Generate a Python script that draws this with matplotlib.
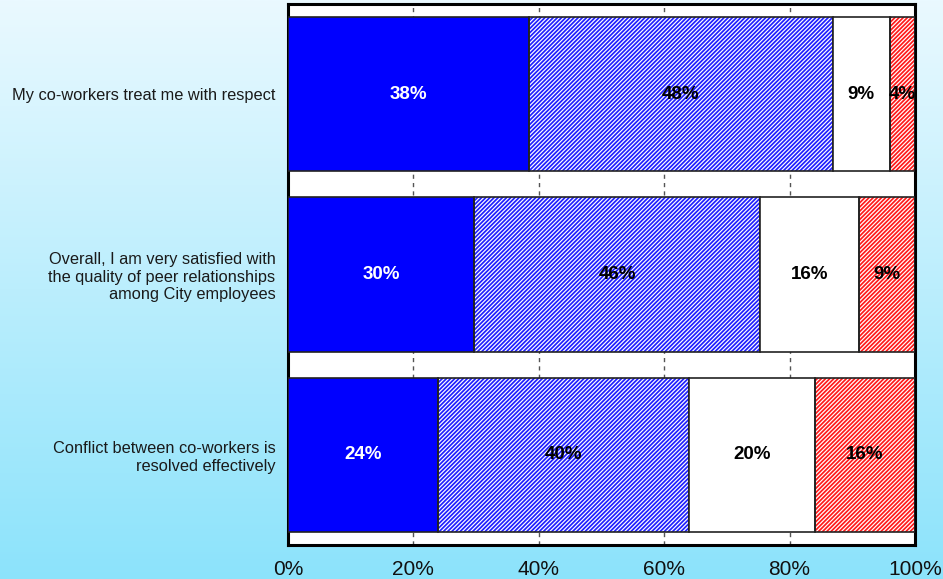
import numpy as np
import matplotlib
matplotlib.use("Agg")
import matplotlib.pyplot as plt

plt.rcParams["font.family"] = ["Liberation Sans", "DejaVu Sans"]
plt.rcParams["hatch.linewidth"] = 1.25

# Survey statements (top to bottom) and response shares in percent
categories = [
    "My co-workers treat me with respect",
    "Overall, I am very satisfied with\nthe quality of peer relationships\namong City employees",
    "Conflict between co-workers is\nresolved effectively",
]
strongly_agree = [38, 30, 24]
agree = [48, 46, 40]
disagree = [9, 16, 20]
strongly_disagree = [4, 9, 16]
tick_values = [0, 20, 40, 60, 80, 100]
tick_labels = ["0%", "20%", "40%", "60%", "80%", "100%"]

series = [strongly_agree, agree, disagree, strongly_disagree]
styles = [
    dict(face="#0000FF", hatch=None, hcolor=None, text="white"),
    dict(face="white", hatch="////////", hcolor="#2020FF", text="black"),
    dict(face="white", hatch=None, hcolor=None, text="black"),
    dict(face="white", hatch="////////", hcolor="#FF1A1A", text="black"),
]

W, H = 943, 579
fig = plt.figure(figsize=(W / 100, H / 100), dpi=100)

# Vertical sky gradient behind everything
bg = fig.add_axes([0, 0, 1, 1], zorder=-10)
top_rgb = np.array([0xEA, 0xF9, 0xFF]) / 255
bot_rgb = np.array([0x8C, 0xE3, 0xFB]) / 255
t = np.linspace(0, 1, 256)[:, None]
grad = top_rgb[None, :] * (1 - t) + bot_rgb[None, :] * t
bg.imshow(grad[:, None, :], aspect="auto", extent=[0, 1, 0, 1], origin="upper")
bg.set_axis_off()

ax = fig.add_axes([288 / W, 1 - 545 / H, 627 / W, 541 / H])
ax.set_facecolor("white")

y = np.arange(len(categories))
data = np.array(series, dtype=float)
shares = data / data.sum(axis=0) * 100  # 100% stacked
left = np.zeros(len(categories))
bar_h = 0.855

for vals, shr, st in zip(series, shares, styles):
    if st["hatch"]:
        ax.barh(y, shr, left=left, height=bar_h, color=st["face"],
                edgecolor=st["hcolor"], hatch=st["hatch"], linewidth=0, zorder=2)
        ax.barh(y, shr, left=left, height=bar_h, fill=False,
                edgecolor="#222222", linewidth=1.2, zorder=3)
    else:
        ax.barh(y, shr, left=left, height=bar_h, color=st["face"],
                edgecolor="#222222", linewidth=1.2, zorder=3)
    for yi, v, l, s in zip(y, vals, left, shr):
        ax.text(l + s / 2, yi, f"{v}%", ha="center", va="center",
                fontsize=13.5, fontweight="bold", color=st["text"], zorder=4)
    left = left + shr

ax.set_xlim(0, 100)
ax.set_ylim(2.5, -0.5)
ax.set_xticks(tick_values)
ax.set_xticklabels(tick_labels, fontsize=15, color="#111111")
ax.set_yticks(y)
ax.set_yticklabels(categories, fontsize=11.8, color="#1a1a1a", linespacing=1.22)
ax.tick_params(axis="x", length=0, pad=11)
ax.tick_params(axis="y", length=0, pad=9)

ax.xaxis.grid(True, linestyle=(0, (3, 3)), color="#555555", linewidth=1)
ax.set_axisbelow(True)
for sp in ax.spines.values():
    sp.set_linewidth(2.2)
    sp.set_color("black")

fig.savefig("out.png", dpi=100)
